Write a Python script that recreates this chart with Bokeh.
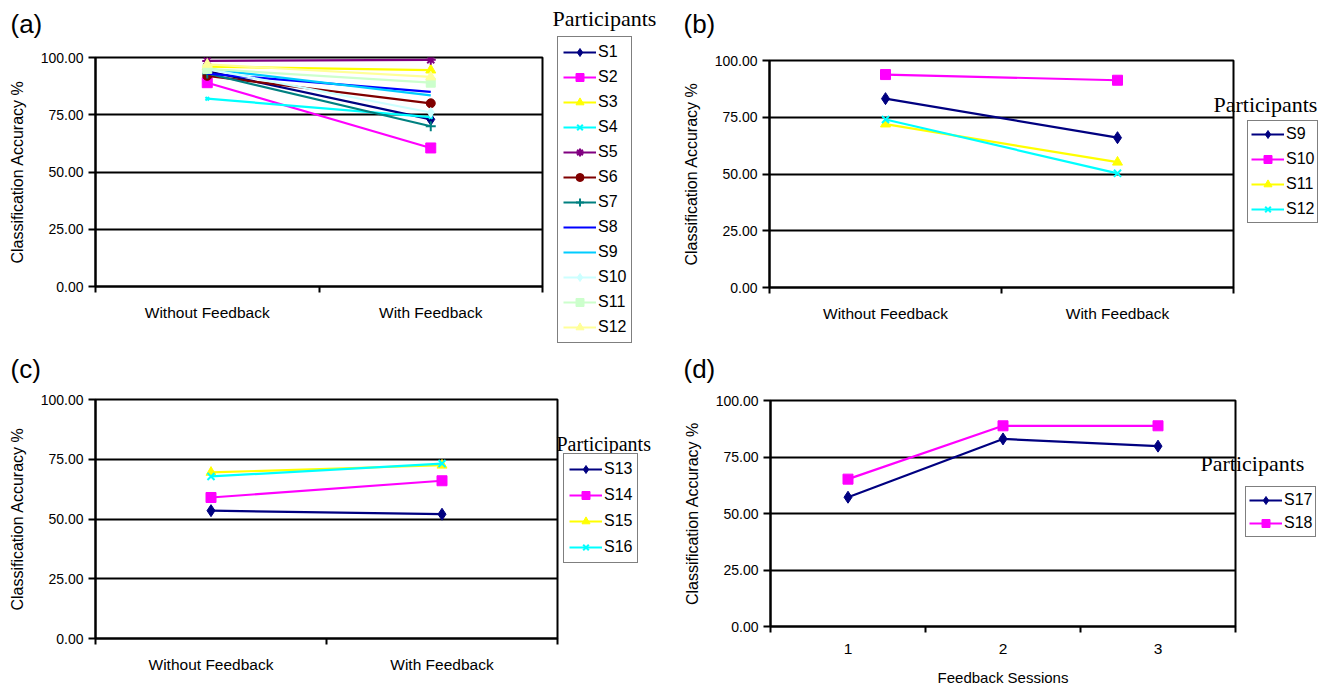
from bokeh.plotting import figure
from bokeh.layouts import column, row
from bokeh.models import (FixedTicker, PrintfTickFormatter, Legend, LegendItem,
                          Label, Range1d, GridBox)
from bokeh.embed import file_html
from bokeh.resources import INLINE

# ---------------- data ----------------
cond_labels = ["Without Feedback", "With Feedback"]
session_labels = ["1", "2", "3"]
y_ticks = [0, 25, 50, 75, 100]

a_names = ["S1", "S2", "S3", "S4", "S5", "S6", "S7", "S8", "S9", "S10", "S11", "S12"]
a_without = [94, 89, 96, 82, 98.5, 92, 93, 93, 95, 95, 95, 97]
a_with = [73, 60.5, 94.5, 74, 99, 80, 70, 85, 83.5, 76, 89, 91.5]

b_names = ["S9", "S10", "S11", "S12"]
b_without = [83.2, 93.8, 72, 74]
b_with = [66, 91.3, 55.2, 50.3]

c_names = ["S13", "S14", "S15", "S16"]
c_without = [53.5, 59, 69.5, 67.8]
c_with = [52, 66, 72.5, 73.2]

d_names = ["S17", "S18"]
d_s17 = [57.2, 83, 79.8]
d_s18 = [65.2, 88.8, 88.8]

# ---------------- styles ----------------
STY_A = [
    ("#000080", "diamond", 12), ("#FF00FF", "square", 10), ("#FFFF00", "triangle", 10),
    ("#00FFFF", "x", 5), ("#800080", "asterisk", 10), ("#800000", "circle", 9),
    ("#008080", "cross", 10), ("#0000FF", None, 0), ("#00CCFF", None, 0),
    ("#CCFFFF", "diamond", 10), ("#CCFFCC", "square", 9), ("#FFFF99", "triangle", 10),
]
STY_4 = [("#000080", "diamond", 12), ("#FF00FF", "square", 10),
         ("#FFFF00", "triangle", 10), ("#00FFFF", "x", 10)]

SANS = "Liberation Sans"
SERIF = "Liberation Serif"


def add_series(p, centers, ys, style, visible=True):
    col, mk, sz = style
    rs = [p.line(centers, ys, line_color=col, line_width=2.2, visible=visible)]
    if mk:
        lw = 2 if mk in ("x", "asterisk", "cross") else 1
        rs.append(p.scatter(centers, ys, marker=mk, size=sz, fill_color=col,
                            line_color=col, line_width=lw, visible=visible))
    return rs


def make_panel(width, height, bl, br, bt, bb, cats, series, styles, xlabel=None):
    p = figure(width=width, height=height, output_backend="svg", toolbar_location=None,
               min_border_left=bl, min_border_right=br, min_border_top=bt,
               min_border_bottom=bb, x_range=Range1d(0, len(cats)),
               y_range=Range1d(0, 100))
    p.outline_line_color = "black"
    p.outline_line_width = 2

    centers = [i + 0.5 for i in range(len(cats))]
    p.xaxis.ticker = FixedTicker(ticks=centers, minor_ticks=list(range(len(cats) + 1)))
    p.xaxis.major_label_overrides = {c: lab for c, lab in zip(centers, cats)}
    p.xaxis.major_tick_line_color = None
    p.xaxis.minor_tick_line_color = "black"
    p.xaxis.minor_tick_line_width = 2
    p.xaxis.minor_tick_out = 6
    p.xaxis.minor_tick_in = 0
    p.xaxis.axis_line_width = 2
    p.xaxis.major_label_text_font = SANS
    p.xaxis.major_label_text_font_size = "15.5px"
    p.xaxis.major_label_text_color = "black"
    p.xaxis.major_label_standoff = 11
    if xlabel:
        p.xaxis.axis_label = xlabel
        p.xaxis.axis_label_text_font = SANS
        p.xaxis.axis_label_text_font_style = "normal"
        p.xaxis.axis_label_text_font_size = "15px"
        p.xaxis.axis_label_text_color = "black"
        p.xaxis.axis_label_standoff = 12
    p.xgrid.visible = False

    p.yaxis.ticker = FixedTicker(ticks=y_ticks, minor_ticks=[])
    p.yaxis.formatter = PrintfTickFormatter(format="%.2f")
    p.yaxis.axis_label = "Classification Accuracy %"
    p.yaxis.axis_label_text_font = SANS
    p.yaxis.axis_label_text_font_style = "normal"
    p.yaxis.axis_label_text_font_size = "16px"
    p.yaxis.axis_label_text_color = "black"
    p.yaxis.axis_label_standoff = 12
    p.yaxis.major_label_text_font = SANS
    p.yaxis.major_label_text_font_size = "14px"
    p.yaxis.major_label_text_color = "black"
    p.yaxis.major_label_standoff = 5
    p.yaxis.major_tick_out = 7
    p.yaxis.major_tick_in = 0
    p.yaxis.major_tick_line_width = 2
    p.yaxis.axis_line_width = 2
    p.ygrid.grid_line_color = "black"
    p.ygrid.grid_line_width = 2
    p.ygrid.grid_line_alpha = 1

    for ys, st in zip(series, styles):
        add_series(p, centers, ys, st)
    return p


pa = make_panel(662, 345, 95, 120, 57, 59, cond_labels,
                [list(v) for v in zip(a_without, a_with)], STY_A)
pb = make_panel(663, 345, 107, 92, 60, 58, cond_labels,
                [list(v) for v in zip(b_without, b_with)], STY_4)
pc = make_panel(662, 346, 95, 105, 54, 53, cond_labels,
                [list(v) for v in zip(c_without, c_with)], STY_4)
pd_ = make_panel(663, 346, 108, 90, 55, 65, session_labels, [d_s17, d_s18],
                 STY_4[:2], xlabel="Feedback Sessions")

# ---------------- overlay for panel letters, legend titles and legends ----------------
W, H = 1325, 691
ov = figure(width=W, height=H, output_backend="svg", toolbar_location=None,
            x_range=Range1d(0, W), y_range=Range1d(H, 0),
            x_axis_type=None, y_axis_type=None, min_border=0)
ov.grid.visible = False
ov.outline_line_color = None
ov.background_fill_alpha = 0
ov.border_fill_alpha = 0


def overlay_legend(names, cats, series, styles, loc, spacing, pad):
    centers = [i + 0.5 for i in range(len(cats))]
    items = []
    for name, ys, st in zip(names, series, styles):
        rs = add_series(ov, centers, ys, st, visible=False)
        items.append(LegendItem(label=name, renderers=rs))
    leg = Legend(items=items, location=loc, orientation="vertical",
                 glyph_width=33, glyph_height=20, label_height=20,
                 label_standoff=2, spacing=spacing, padding=pad, margin=0,
                 label_text_font=SANS, label_text_font_size="16px",
                 label_text_color="black",
                 border_line_color="black", border_line_width=1.5,
                 background_fill_color="white", background_fill_alpha=1)
    ov.add_layout(leg, "center")


overlay_legend(a_names, cond_labels, [list(v) for v in zip(a_without, a_with)], STY_A,
               (557, H - 343), 5, 5)
overlay_legend(b_names, cond_labels, [list(v) for v in zip(b_without, b_with)], STY_4,
               (1247, H - 223), 5, 3)
overlay_legend(c_names, cond_labels, [list(v) for v in zip(c_without, c_with)], STY_4,
               (563, H - 563), 6, 5)
overlay_legend(d_names, session_labels, [d_s17, d_s18], STY_4[:2],
               (1245, H - 537), 3, 3)

for txt, x, y in [("(a)", 10, 8), ("(b)", 683, 8), ("(c)", 10, 353), ("(d)", 683, 353)]:
    ov.add_layout(Label(x=x, y=y, text=txt, text_font=SANS, text_font_size="26px",
                        text_baseline="top", text_color="black"))
for x, y, fs in [(552, 18, "22px"), (1213, 104, "22px"), (556, 443, "20px"),
                 (1200, 463, "22px")]:
    ov.add_layout(Label(x=x, y=y, text="Participants", text_font=SERIF,
                        text_font_size=fs, text_baseline="middle", text_color="black"))

main = column(row(column(pa), column(pb)), row(column(pc), column(pd_)))
layout = GridBox(children=[(main, 0, 0), (column(ov), 0, 0)], spacing=0)
open("out.html", "w").write(file_html(layout, INLINE))
